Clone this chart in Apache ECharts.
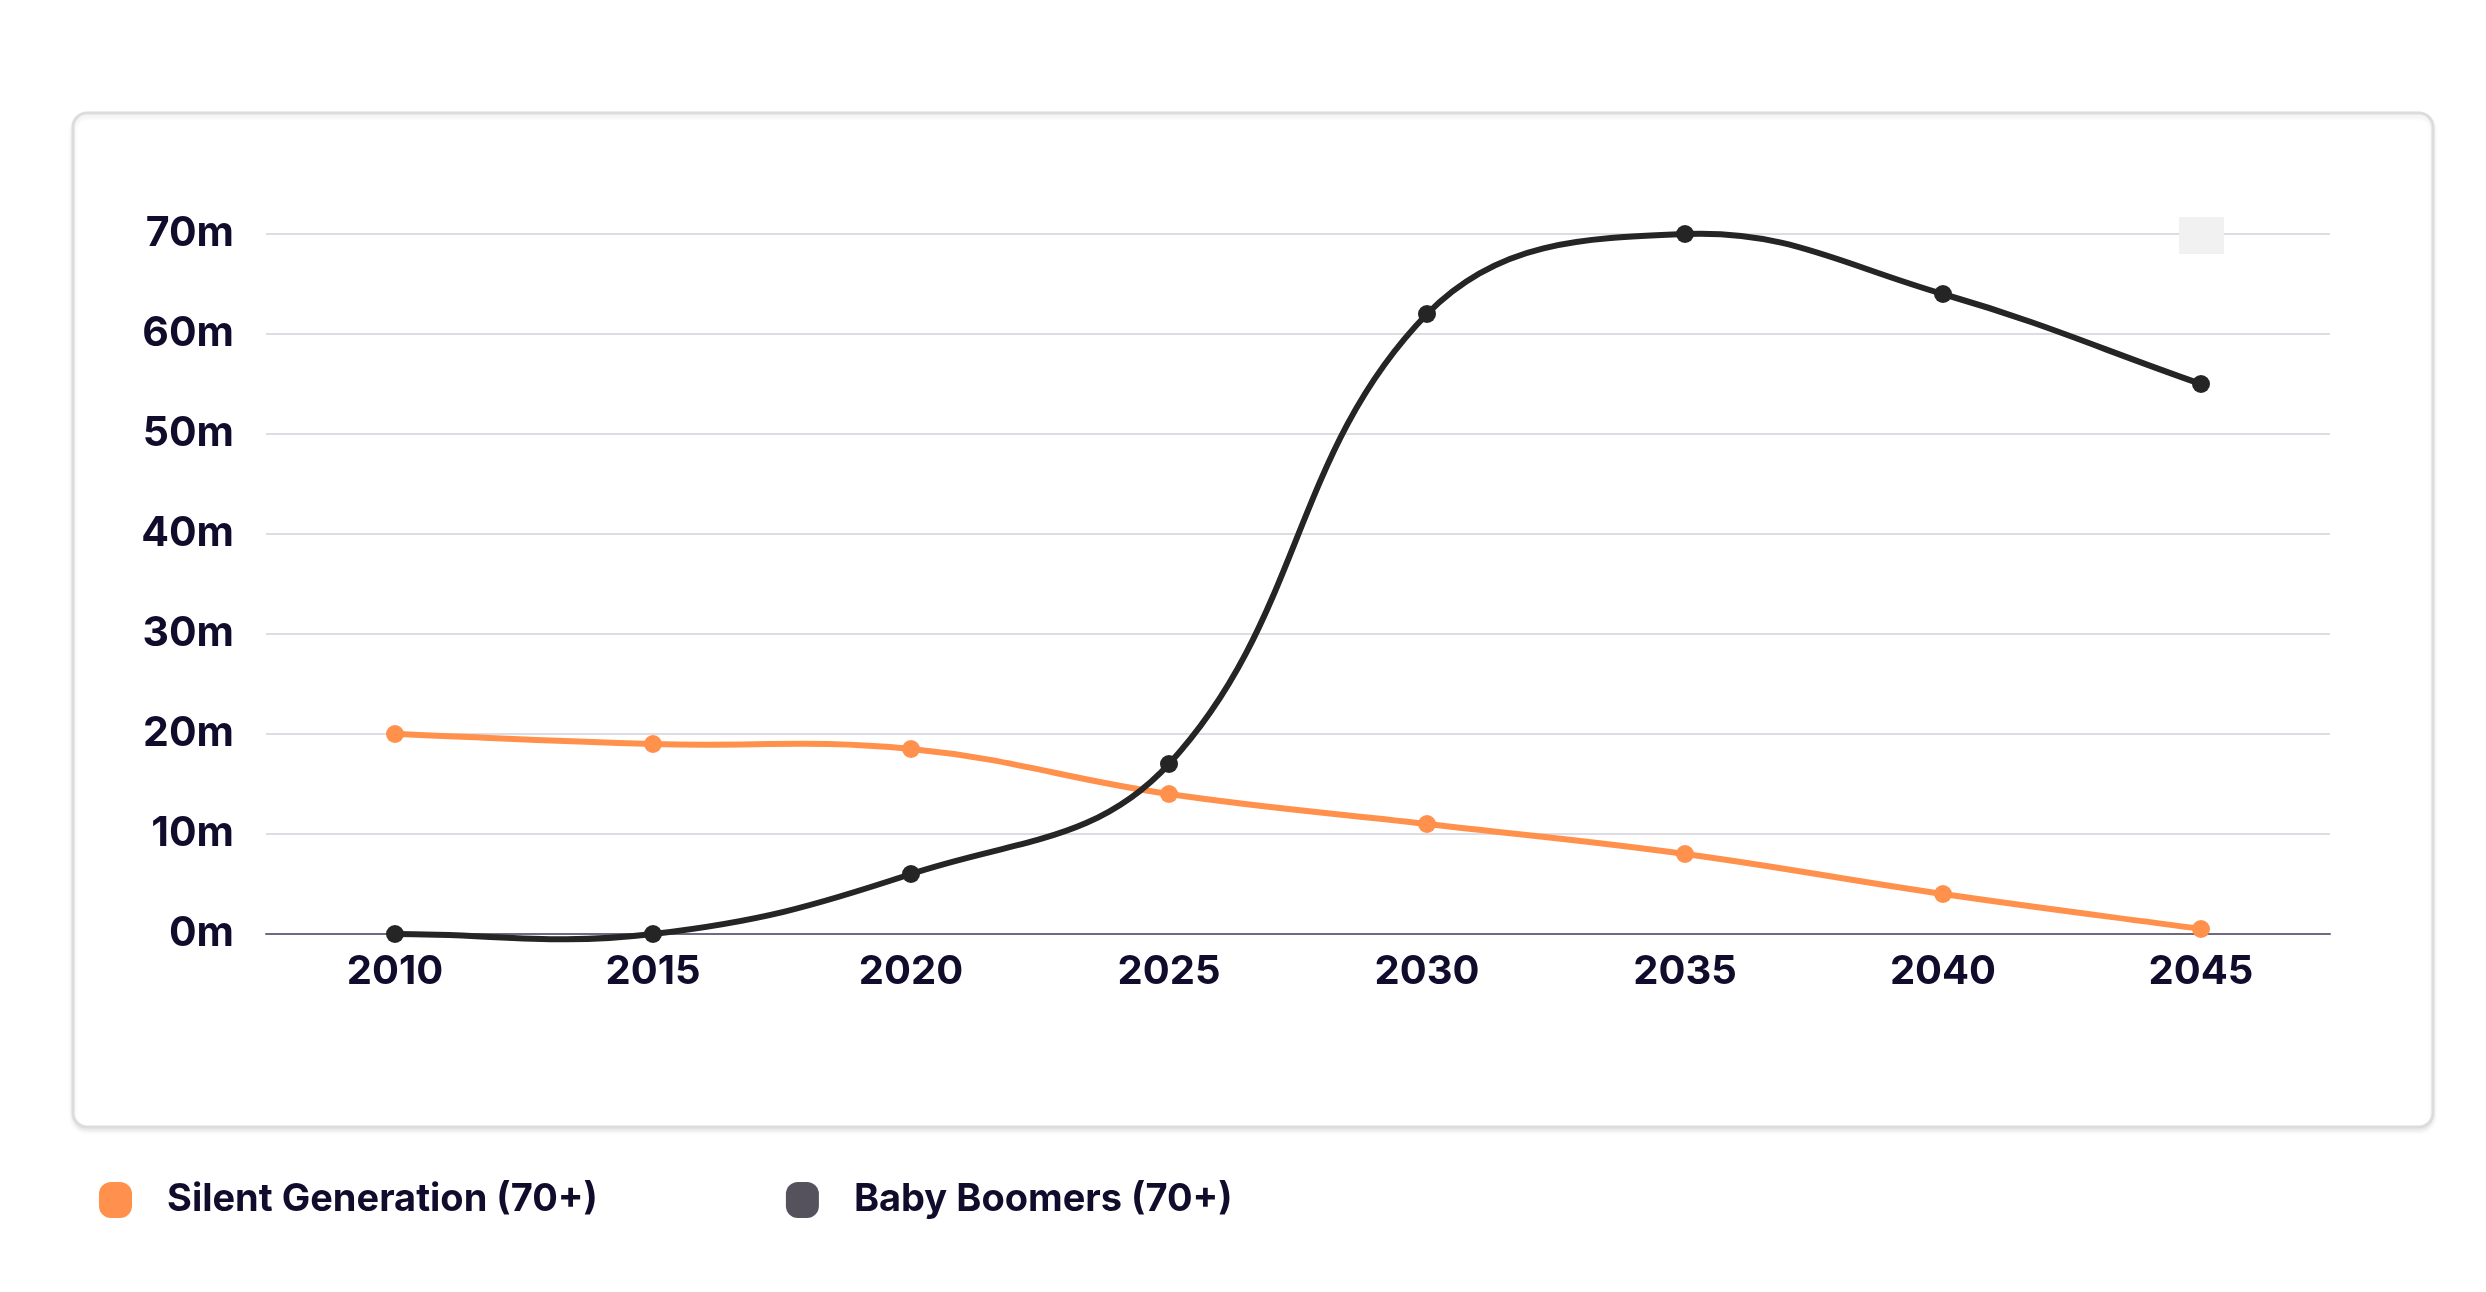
<!DOCTYPE html>
<html>
<head>
<meta charset="utf-8">
<script src="https://cdn.jsdelivr.net/npm/echarts@6/dist/echarts.min.js"></script>
<style>
html,body{margin:0;padding:0;background:#fff;}
#c{width:2486px;height:1292px;}
</style>
</head>
<body>
<div id="c"></div>
<script>
const years = ['2010','2015','2020','2025','2030','2035','2040','2045'];
const silentGeneration = [20, 19, 18.5, 14, 11, 8, 4, 0.5];
const babyBoomers = [0, 0, 6, 17, 62, 70, 64, 55];
const seriesNames = ['Silent Generation (70+)', 'Baby Boomers (70+)'];
const yTicks = [0, 10, 20, 30, 40, 50, 60, 70];

const textColor = '#120c2c';
const fontFamily = 'Inter, "Noto Sans", sans-serif';
const TENSION = 0.4;

// cardinal-spline control points (distance weighted), computed in pixel space
function controlPoints(prev, cur, next) {
  const d01 = Math.hypot(cur[0] - prev[0], cur[1] - prev[1]);
  const d12 = Math.hypot(next[0] - cur[0], next[1] - cur[1]);
  let s01 = d01 / (d01 + d12), s12 = d12 / (d01 + d12);
  if (isNaN(s01)) s01 = 0;
  if (isNaN(s12)) s12 = 0;
  const fa = TENSION * s01, fb = TENSION * s12;
  const vx = next[0] - prev[0], vy = next[1] - prev[1];
  return {
    before: [cur[0] - fa * vx, cur[1] - fa * vy],
    after: [cur[0] + fb * vx, cur[1] + fb * vy]
  };
}

function curveSeries(name, values, color, z) {
  return {
    name: name,
    type: 'custom',
    z: z,
    data: values.map((v, i) => [i, v]),
    encode: {x: 0, y: 1},
    renderItem: function (params, api) {
      const i = params.dataIndex;
      const n = values.length;
      const pt = k => api.coord([k, values[k]]);
      const children = [];
      const p = pt(i);
      if (i < n - 1) {
        const prev = i > 0 ? pt(i - 1) : p;
        const nxt = pt(i + 1);
        const nxt2 = i + 2 < n ? pt(i + 2) : nxt;
        const c1 = controlPoints(prev, p, nxt).after;
        const c2 = controlPoints(p, nxt, nxt2).before;
        children.push({
          type: 'bezierCurve',
          shape: {x1: p[0], y1: p[1], x2: nxt[0], y2: nxt[1],
                  cpx1: c1[0], cpy1: c1[1], cpx2: c2[0], cpy2: c2[1]},
          style: {stroke: color, lineWidth: 6, fill: null, lineCap: 'round'},
          z2: 1
        });
      }
      children.push({
        type: 'circle',
        shape: {cx: p[0], cy: p[1], r: 9},
        style: {fill: color},
        z2: 2
      });
      return {type: 'group', children: children};
    }
  };
}

const chart = echarts.init(document.getElementById('c'));
chart.setOption({
  backgroundColor: '#fff',
  animation: false,
  graphic: [
    {
      type: 'rect', z: -10, silent: true,
      shape: {x: 73, y: 113, width: 2360, height: 1014, r: 14},
      style: {fill: '#fff', stroke: '#dcdcdc', lineWidth: 3,
              shadowBlur: 4, shadowOffsetY: 3, shadowColor: 'rgba(0,0,0,0.08)'}
    },
    {
      type: 'rect', z: 5, silent: true,
      shape: {x: 2179, y: 217, width: 45, height: 37},
      style: {fill: '#f1f1f1'}
    }
  ],
  grid: {left: 266, right: 156, top: 234, bottom: 358, containLabel: false},
  legend: {
    left: 94, top: 1176,
    itemWidth: 33, itemHeight: 36, itemGap: 188,
    icon: 'path://M12,0 H21 A12,12 0 0 1 33,12 V24 A12,12 0 0 1 21,36 H12 A12,12 0 0 1 0,24 V12 A12,12 0 0 1 12,0 Z',
    textStyle: {color: textColor, fontSize: 38, fontWeight: 'bold', fontFamily: fontFamily, padding: [0, 0, 0, 30]},
    data: [
      {name: seriesNames[0], itemStyle: {color: '#ff914d'}},
      {name: seriesNames[1], itemStyle: {color: '#55525d'}}
    ]
  },
  xAxis: {
    type: 'category',
    data: years,
    boundaryGap: true,
    axisTick: {show: false},
    axisLine: {lineStyle: {color: '#6e6a80', width: 2}},
    axisLabel: {color: textColor, fontSize: 40, fontWeight: 'bold', fontFamily: fontFamily, margin: 18}
  },
  yAxis: {
    type: 'value',
    min: yTicks[0], max: yTicks[yTicks.length - 1], interval: 10,
    axisLine: {show: false},
    axisTick: {show: false},
    splitLine: {lineStyle: {color: '#dcdce2', width: 2}},
    axisLabel: {color: textColor, fontSize: 41, fontWeight: 'bold', fontFamily: fontFamily, margin: 32, formatter: '{value}m'}
  },
  series: [
    curveSeries(seriesNames[0], silentGeneration, '#ff914d', 2),
    curveSeries(seriesNames[1], babyBoomers, '#252525', 3)
  ]
});
</script>
</body>
</html>
